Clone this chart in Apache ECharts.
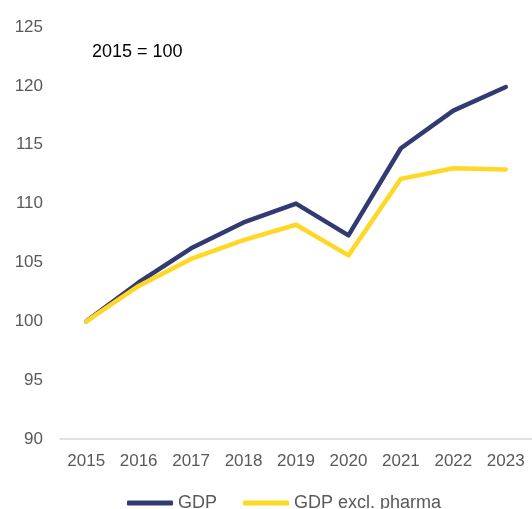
<!DOCTYPE html>
<html>
<head>
<meta charset="utf-8">
<script src="https://cdn.jsdelivr.net/npm/echarts@6/dist/echarts.min.js"></script>
<style>
  html, body { margin: 0; padding: 0; background: #fff; }
  #chart { width: 532px; height: 509px; }
</style>
</head>
<body>
<div id="chart"></div>
<script>
var years = ['2015', '2016', '2017', '2018', '2019', '2020', '2021', '2022', '2023'];
var gdp = [100, 103.3, 106.2, 108.4, 110.0, 107.3, 114.7, 117.9, 119.9];
var gdpExPharma = [100, 103.0, 105.3, 106.9, 108.2, 105.6, 112.1, 113.0, 112.9];
var yTicks = { min: 90, max: 125, interval: 5 };

var navy = '#323A72';
var yellow = '#FFD826';

var myChart = echarts.init(document.getElementById('chart'));

var option = {
    animation: false,
    grid: {
        left: 60,
        right: -4,
        top: 27,
        bottom: 70
    },
    graphic: [{
        type: 'text',
        left: 92,
        top: 43,
        style: {
            text: '2015 = 100',
            fill: '#000',
            font: '18px "Liberation Sans", Arial, sans-serif'
        }
    }],
    legend: {
        bottom: -8,
        left: 122,
        icon: 'roundRect',
        itemWidth: 46,
        itemHeight: 5,
        itemGap: 26,
        textStyle: {
            color: '#595959',
            fontSize: 18,
            fontFamily: '"Liberation Sans", Arial, sans-serif'
        },
        data: ['GDP', 'GDP excl. pharma']
    },
    xAxis: {
        type: 'category',
        data: years,
        boundaryGap: true,
        axisLine: { lineStyle: { color: '#D9D9D9', width: 1.5 } },
        axisTick: { show: false },
        axisLabel: {
            color: '#595959',
            fontSize: 17,
            margin: 14,
            fontFamily: '"Liberation Sans", Arial, sans-serif'
        }
    },
    yAxis: {
        type: 'value',
        min: yTicks.min,
        max: yTicks.max,
        interval: yTicks.interval,
        axisLine: { show: false },
        axisTick: { show: false },
        splitLine: { show: false },
        axisLabel: {
            color: '#595959',
            fontSize: 17,
            margin: 17,
            fontFamily: '"Liberation Sans", Arial, sans-serif'
        }
    },
    series: [
        {
            name: 'GDP',
            type: 'line',
            data: gdp,
            showSymbol: false,
            symbol: 'none',
            itemStyle: { color: navy },
            lineStyle: { color: navy, width: 4.5, cap: 'round', join: 'round' }
        },
        {
            name: 'GDP excl. pharma',
            type: 'line',
            data: gdpExPharma,
            showSymbol: false,
            symbol: 'none',
            itemStyle: { color: yellow },
            lineStyle: { color: yellow, width: 4.5, cap: 'round', join: 'round' }
        }
    ]
};

myChart.setOption(option);
</script>
</body>
</html>
